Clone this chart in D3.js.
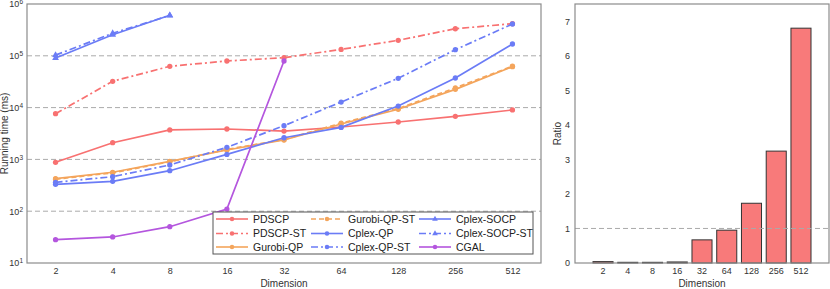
<!DOCTYPE html>
<meta charset="utf-8">
<style>
body { margin: 0; background: #fff; }
svg { font-family: "Liberation Sans", Arial, sans-serif; }
.tick text { font-size: 9px; fill: #333; }
.frame { fill: none; stroke: #8c8c8c; stroke-width: 1.2; }
.grid { stroke: #aaa; stroke-dasharray: 5,3; stroke-width: 1; }
.bar { fill: #f87a7a; stroke: #333; stroke-width: 1; }
</style>
<svg width="830" height="289"></svg>
<script src="https://d3js.org/d3.v7.min.js"></script>
<script>

var dims = ["2", "4", "8", "16", "32", "64", "128", "256", "512"];

var pdscp      = [880, 2100, 3700, 3860, 3530, 4220, 5270, 6790, 9000];
var pdscpST    = [7620, 32200, 62700, 79400, 91900, 133000, 199000, 333000, 417000];
var gurobiQP   = [424, 564, 918, 1520, 2370, 4820, 9270, 22500, 61600];
var gurobiQPST = [415, 550, 900, 1560, 2420, 5000, 9600, 24000, 63000];
var cplexQP    = [330, 378, 605, 1250, 2620, 4150, 10700, 37300, 169000];
var cplexQPST  = [361, 463, 780, 1710, 4480, 12800, 36800, 131000, 411000];
var cplexSOCP   = [90800, 255000, 605000];
var cplexSOCPST = [103000, 272000, 600000];
var cgal       = [28.2, 31.8, 50.2, 110, 79400];

var ratio = [0.04, 0.02, 0.02, 0.03, 0.67, 0.95, 1.73, 3.24, 6.8];

var yTicks = [1, 2, 3, 4, 5, 6];
var ratioTicks = [0, 1, 2, 3, 4, 5, 6, 7];

var red = "#f87171", orange = "#f4a55c", blue = "#6b7cf6", purple = "#b456de";

var series = [
  {name: "PDSCP", values: pdscp, color: red, dash: null, marker: "circle"},
  {name: "PDSCP-ST", values: pdscpST, color: red, dash: "7,3,2,3", marker: "circle"},
  {name: "Gurobi-QP", values: gurobiQP, color: orange, dash: null, marker: "circle"},
  {name: "Gurobi-QP-ST", values: gurobiQPST, color: orange, dash: "5,3", marker: "circle"},
  {name: "Cplex-QP", values: cplexQP, color: blue, dash: null, marker: "circle"},
  {name: "Cplex-QP-ST", values: cplexQPST, color: blue, dash: "7,3,2,3", marker: "circle"},
  {name: "Cplex-SOCP", values: cplexSOCP, color: blue, dash: null, marker: "triangle"},
  {name: "Cplex-SOCP-ST", values: cplexSOCPST, color: blue, dash: "7,3,2,3", marker: "triangle"},
  {name: "CGAL", values: cgal, color: purple, dash: null, marker: "circle"}
];

var svg = d3.select("svg");

// ---- left panel
var L = {left: 27, right: 541, top: 4, bottom: 263};

var x = d3.scalePoint().domain(dims).range([L.left, L.right]).padding(0.5);
var y = d3.scaleLog().domain([10, 1e6]).range([L.bottom, L.top]);

var left = svg.append("g");

left.selectAll(".grid")
  .data([1e2, 1e3, 1e4, 1e5])
  .enter().append("line")
    .attr("class", "grid")
    .attr("x1", L.left).attr("x2", L.right)
    .attr("y1", function(d) { return y(d); })
    .attr("y2", function(d) { return y(d); });

var line = d3.line()
  .x(function(d, i) { return x(dims[i]); })
  .y(function(d) { return y(d); });

var sym = {
  circle: d3.symbol().type(d3.symbolCircle).size(22),
  triangle: d3.symbol().type(d3.symbolTriangle).size(20)
};
var symLeg = {
  circle: d3.symbol().type(d3.symbolCircle).size(16),
  triangle: d3.symbol().type(d3.symbolTriangle).size(14)
};

series.forEach(function(s) {
  var g = left.append("g");
  g.append("path")
    .attr("d", line(s.values))
    .attr("fill", "none")
    .attr("stroke", s.color)
    .attr("stroke-width", 1.7)
    .attr("stroke-dasharray", s.dash);
  g.selectAll("path.m")
    .data(s.values)
    .enter().append("path")
      .attr("class", "m")
      .attr("d", sym[s.marker])
      .attr("fill", s.color)
      .attr("transform", function(d, i) { return "translate(" + x(dims[i]) + "," + y(d) + ")"; });
});

left.append("rect").attr("class", "frame")
  .attr("x", L.left).attr("y", L.top)
  .attr("width", L.right - L.left).attr("height", L.bottom - L.top);

left.append("g")
    .attr("transform", "translate(0," + L.bottom + ")")
    .call(d3.axisBottom(x).tickSize(0).tickPadding(5))
    .call(function(g) { g.select(".domain").remove(); });

var yAxis = left.append("g")
    .attr("transform", "translate(" + L.left + ",0)")
    .call(d3.axisLeft(y).tickValues(yTicks.map(function(e) { return Math.pow(10, e); })).tickSize(0).tickPadding(4).tickFormat(""));
yAxis.select(".domain").remove();
yAxis.selectAll(".tick text").each(function(d) {
  var t = d3.select(this);
  t.append("tspan").text("10");
  t.append("tspan").attr("dy", "-0.45em").attr("font-size", "6.5px").text(Math.round(Math.log10(d)));
});

left.append("text")
  .attr("transform", "translate(8," + ((L.top + L.bottom) / 2) + ") rotate(-90)")
  .attr("text-anchor", "middle")
  .attr("font-size", "10px").attr("fill", "#333")
  .text("Running time (ms)");

left.append("text")
  .attr("x", (L.left + L.right) / 2).attr("y", 287)
  .attr("text-anchor", "middle")
  .attr("font-size", "10px").attr("fill", "#333")
  .text("Dimension");

// legend
var leg = left.append("g").attr("transform", "translate(213,212)");
leg.append("rect")
  .attr("width", 320).attr("height", 42)
  .attr("fill", "#fff").attr("stroke", "#555").attr("stroke-width", 1);

var colX = [3, 98, 206], rowY = [7, 21.5, 35];
series.forEach(function(s, i) {
  var cx = colX[Math.floor(i / 3)], cy = rowY[i % 3];
  var it = leg.append("g").attr("transform", "translate(" + cx + "," + cy + ")");
  it.append("line")
    .attr("x1", 0).attr("x2", 32)
    .attr("stroke", s.color).attr("stroke-width", 1.6)
    .attr("stroke-dasharray", s.dash);
  it.append("path")
    .attr("d", symLeg[s.marker])
    .attr("fill", s.color)
    .attr("transform", "translate(16,0)");
  it.append("text")
    .attr("x", 37).attr("dy", "0.35em")
    .attr("font-size", "10.5px").attr("fill", "#222")
    .text(s.name);
});

// ---- right panel
var R = {left: 575, right: 829, top: 4, bottom: 263};

var xb = d3.scaleBand().domain(dims).range([R.left + 18, R.right - 18]).paddingInner(0.19);
var yr = d3.scaleLinear().domain([0, 7.5]).range([R.bottom, R.top]);

var right = svg.append("g");

right.selectAll(".bar")
  .data(ratio)
  .enter().append("rect")
    .attr("class", "bar")
    .attr("x", function(d, i) { return xb(dims[i]); })
    .attr("y", function(d) { return yr(d); })
    .attr("width", xb.bandwidth())
    .attr("height", function(d) { return R.bottom - yr(d); });

right.append("line").attr("class", "grid")
  .attr("x1", R.left).attr("x2", R.right)
  .attr("y1", yr(1)).attr("y2", yr(1));

right.append("rect").attr("class", "frame")
  .attr("x", R.left).attr("y", R.top)
  .attr("width", R.right - R.left).attr("height", R.bottom - R.top);

right.append("g")
    .attr("transform", "translate(0," + R.bottom + ")")
    .call(d3.axisBottom(xb).tickSize(0).tickPadding(5))
    .call(function(g) { g.select(".domain").remove(); });

right.append("g")
    .attr("transform", "translate(" + R.left + ",0)")
    .call(d3.axisLeft(yr).tickValues(ratioTicks).tickSize(0).tickPadding(5).tickFormat(d3.format("d")))
    .call(function(g) { g.select(".domain").remove(); });

right.append("text")
  .attr("transform", "translate(561," + ((R.top + R.bottom) / 2) + ") rotate(-90)")
  .attr("text-anchor", "middle")
  .attr("font-size", "10px").attr("fill", "#333")
  .text("Ratio");

right.append("text")
  .attr("x", (R.left + R.right) / 2).attr("y", 287)
  .attr("text-anchor", "middle")
  .attr("font-size", "10px").attr("fill", "#333")
  .text("Dimension");

</script>
